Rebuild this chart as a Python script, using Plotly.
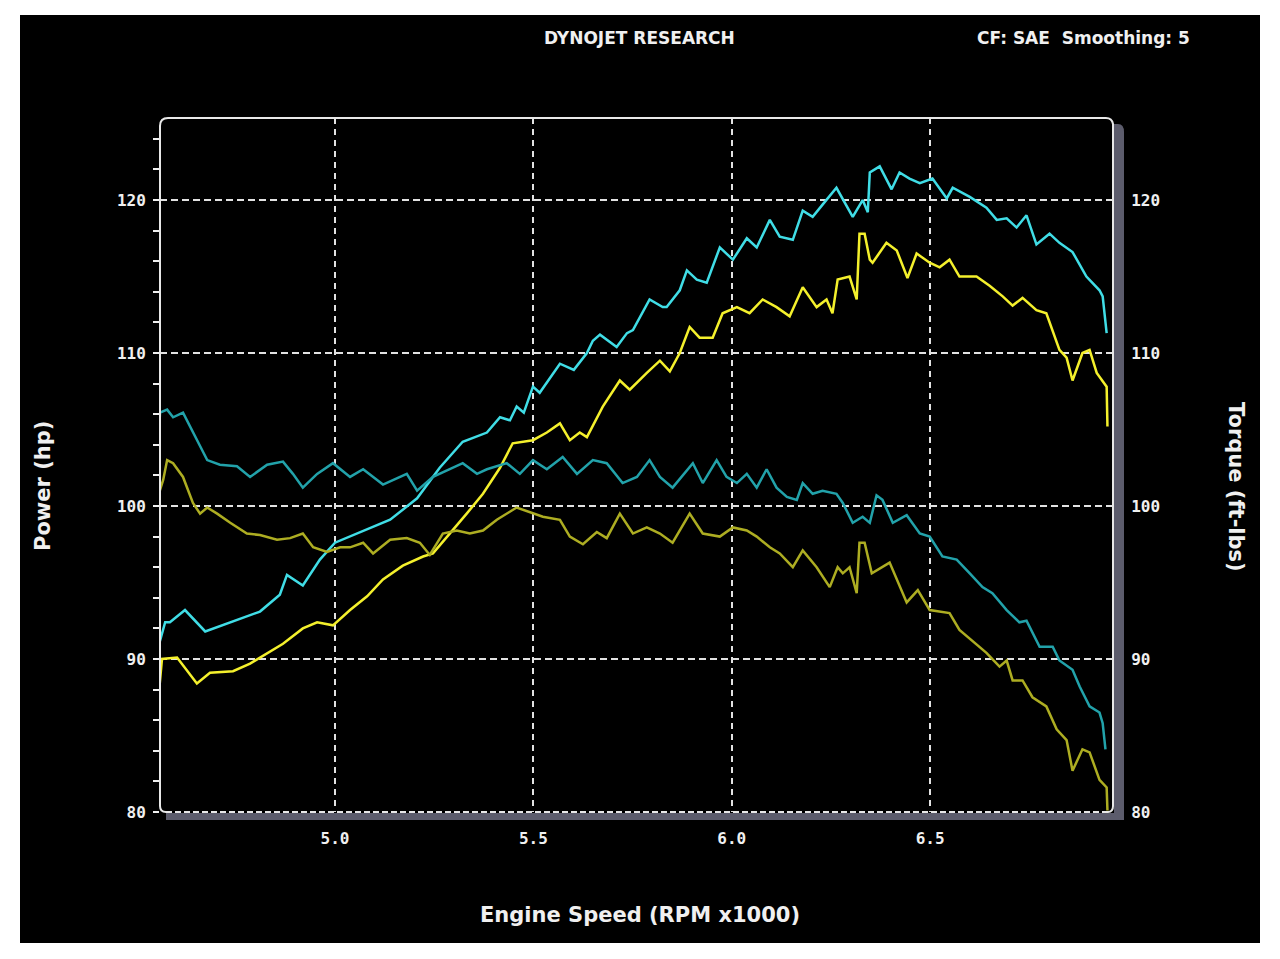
import plotly.graph_objects as go

# ---------------- data (RPM x1000, values) ----------------
power1_rpm = [4.556, 4.572, 4.584, 4.622, 4.673, 4.761, 4.811, 4.861, 4.879, 4.919, 4.962, 5.000,
              5.038, 5.139, 5.207, 5.264, 5.322, 5.383, 5.416, 5.441, 5.458, 5.476, 5.499, 5.516,
              5.567, 5.602, 5.635, 5.650, 5.668, 5.710, 5.736, 5.751, 5.793, 5.826, 5.836, 5.869,
              5.887, 5.912, 5.937, 5.970, 6.003, 6.038, 6.063, 6.096, 6.121, 6.154, 6.179, 6.204,
              6.229, 6.264, 6.305, 6.330, 6.343, 6.348, 6.373, 6.403, 6.423, 6.448, 6.474, 6.506,
              6.542, 6.557, 6.600, 6.642, 6.668, 6.693, 6.718, 6.743, 6.768, 6.801, 6.826, 6.859,
              6.894, 6.927, 6.935, 6.945]
power1_hp = [90.9, 92.4, 92.4, 93.2, 91.8, 92.6, 93.1, 94.2, 95.5, 94.8, 96.5, 97.6,
             98.0, 99.1, 100.5, 102.5, 104.2, 104.8, 105.8, 105.6, 106.5, 106.1, 107.8, 107.4,
             109.3, 108.9, 110.0, 110.8, 111.2, 110.4, 111.3, 111.5, 113.5, 113.0, 113.0, 114.1,
             115.4, 114.8, 114.6, 116.9, 116.1, 117.5, 116.9, 118.7, 117.6, 117.4, 119.3, 118.9,
             119.7, 120.8, 118.9, 120.0, 119.2, 121.8, 122.2, 120.7, 121.8, 121.4, 121.1, 121.4,
             120.1, 120.8, 120.2, 119.5, 118.7, 118.8, 118.2, 119.0, 117.1, 117.8, 117.2, 116.6,
             115.0, 114.1, 113.7, 111.3]

power2_rpm = [4.556, 4.564, 4.602, 4.652, 4.685, 4.743, 4.786, 4.829, 4.869, 4.919, 4.955, 4.995,
              5.038, 5.081, 5.121, 5.171, 5.222, 5.247, 5.290, 5.332, 5.373, 5.416, 5.448, 5.499,
              5.534, 5.567, 5.592, 5.617, 5.635, 5.675, 5.718, 5.743, 5.786, 5.819, 5.844, 5.869,
              5.894, 5.919, 5.952, 5.977, 6.013, 6.045, 6.078, 6.113, 6.146, 6.179, 6.214, 6.239,
              6.254, 6.267, 6.297, 6.315, 6.322, 6.335, 6.348, 6.355, 6.390, 6.416, 6.443, 6.466,
              6.499, 6.524, 6.549, 6.574, 6.617, 6.650, 6.683, 6.708, 6.733, 6.768, 6.793, 6.809,
              6.826, 6.844, 6.859, 6.884, 6.902, 6.920, 6.935, 6.945, 6.947]
power2_hp = [87.7, 90.0, 90.1, 88.4, 89.1, 89.2, 89.7, 90.4, 91.0, 92.0, 92.4, 92.2,
             93.2, 94.1, 95.2, 96.1, 96.7, 96.9, 98.2, 99.5, 100.8, 102.5, 104.1, 104.3,
             104.8, 105.4, 104.3, 104.8, 104.5, 106.5, 108.2, 107.6, 108.7, 109.5, 108.8, 110.0,
             111.7, 111.0, 111.0, 112.6, 113.0, 112.6, 113.5, 113.0, 112.4, 114.3, 113.0, 113.5,
             112.6, 114.8, 115.0, 113.5, 117.8, 117.8, 116.1, 115.9, 117.2, 116.7, 114.9, 116.5,
             115.9, 115.6, 116.1, 115.0, 115.0, 114.4, 113.7, 113.1, 113.6, 112.8, 112.6, 111.5,
             110.2, 109.7, 108.2, 110.0, 110.2, 108.7, 108.2, 107.8, 105.2]

torque1_rpm = [4.556, 4.559, 4.577, 4.592, 4.617, 4.642, 4.678, 4.710, 4.753, 4.786, 4.829, 4.869,
               4.894, 4.919, 4.955, 4.995, 5.038, 5.071, 5.121, 5.181, 5.207, 5.247, 5.290, 5.322,
               5.358, 5.383, 5.433, 5.466, 5.499, 5.534, 5.574, 5.610, 5.650, 5.685, 5.725, 5.761,
               5.793, 5.819, 5.851, 5.902, 5.927, 5.962, 5.987, 6.013, 6.038, 6.063, 6.088, 6.113,
               6.139, 6.164, 6.179, 6.204, 6.229, 6.264, 6.280, 6.305, 6.330, 6.348, 6.365, 6.380,
               6.406, 6.441, 6.474, 6.499, 6.531, 6.567, 6.600, 6.632, 6.657, 6.693, 6.725, 6.743,
               6.776, 6.809, 6.826, 6.859, 6.877, 6.902, 6.927, 6.935, 6.942]
torque1_ftlb = [104.4, 106.1, 106.3, 105.8, 106.1, 104.8, 103.0, 102.7, 102.6, 101.9, 102.7, 102.9,
                102.1, 101.2, 102.1, 102.8, 101.9, 102.4, 101.4, 102.1, 101.0, 101.9, 102.4, 102.8,
                102.1, 102.4, 102.8, 102.1, 103.0, 102.4, 103.2, 102.1, 103.0, 102.8, 101.5, 101.9,
                103.0, 101.9, 101.2, 102.8, 101.5, 103.0, 101.9, 101.5, 102.1, 101.2, 102.4, 101.2,
                100.6, 100.4, 101.5, 100.8, 101.0, 100.8, 100.2, 98.9, 99.3, 98.9, 100.7, 100.4,
                98.9, 99.4, 98.2, 98.0, 96.7, 96.5, 95.6, 94.7, 94.3, 93.2, 92.4, 92.5,
                90.8, 90.8, 89.9, 89.3, 88.2, 86.9, 86.5, 85.8, 84.1]

torque2_rpm = [4.556, 4.567, 4.577, 4.592, 4.617, 4.642, 4.660, 4.678, 4.703, 4.736, 4.778, 4.811,
               4.854, 4.887, 4.919, 4.945, 4.980, 5.013, 5.038, 5.071, 5.096, 5.139, 5.181, 5.214,
               5.239, 5.272, 5.307, 5.340, 5.373, 5.408, 5.458, 5.491, 5.524, 5.567, 5.592, 5.625,
               5.660, 5.685, 5.718, 5.751, 5.786, 5.819, 5.851, 5.894, 5.927, 5.970, 6.003, 6.038,
               6.063, 6.096, 6.121, 6.154, 6.179, 6.214, 6.247, 6.267, 6.280, 6.297, 6.315, 6.322,
               6.335, 6.353, 6.398, 6.441, 6.469, 6.499, 6.549, 6.574, 6.607, 6.642, 6.675, 6.693,
               6.708, 6.733, 6.758, 6.793, 6.819, 6.844, 6.859, 6.884, 6.902, 6.927, 6.945, 6.947]
torque2_ftlb = [100.8, 101.7, 103.0, 102.8, 101.9, 100.2, 99.5, 99.9, 99.5, 98.9, 98.2, 98.1,
                97.8, 97.9, 98.2, 97.3, 97.0, 97.3, 97.3, 97.6, 96.9, 97.8, 97.9, 97.6,
                96.8, 98.2, 98.4, 98.2, 98.4, 99.1, 99.9, 99.6, 99.3, 99.1, 98.0, 97.5,
                98.3, 97.9, 99.5, 98.2, 98.6, 98.2, 97.6, 99.5, 98.2, 98.0, 98.6, 98.4,
                98.0, 97.3, 96.9, 96.0, 97.1, 96.0, 94.7, 96.0, 95.6, 96.0, 94.3, 97.6,
                97.6, 95.6, 96.3, 93.7, 94.5, 93.2, 93.0, 91.9, 91.2, 90.4, 89.5, 89.9,
                88.6, 88.6, 87.5, 86.9, 85.4, 84.7, 82.7, 84.1, 83.9, 82.1, 81.6, 80.1]

x_ticks = [5.0, 5.5, 6.0, 6.5]
y_ticks = [80, 90, 100, 110, 120]

X_RANGE = [4.559, 6.961]
Y_RANGE = [80, 125.36]

# ---------------- figure ----------------
fig = go.Figure()
fig.add_trace(go.Scatter(x=torque1_rpm, y=torque1_ftlb, mode="lines", yaxis="y2",
                         line=dict(color="#22A2AA", width=2.5), name="Torque 1"))
fig.add_trace(go.Scatter(x=torque2_rpm, y=torque2_ftlb, mode="lines", yaxis="y2",
                         line=dict(color="#ADAD22", width=2.5), name="Torque 2"))
fig.add_trace(go.Scatter(x=power1_rpm, y=power1_hp, mode="lines",
                         line=dict(color="#40DDE6", width=2.5), name="Power 1"))
fig.add_trace(go.Scatter(x=power2_rpm, y=power2_hp, mode="lines",
                         line=dict(color="#F4F02C", width=2.5), name="Power 2"))

W, H = 1280, 959
L, R, T, B = 160, 167, 118, 147
PW, PH = W - L - R, H - T - B


def px(x):
    return (x - L) / PW


def py(y):
    return (H - B - y) / PH


tick_font = dict(family="DejaVu Sans Mono", size=16, color="#F0F0F0", weight="bold")
grid_col = "#E2E2E2"

fig.update_layout(
    width=W, height=H,
    margin=dict(l=L, r=R, t=T, b=B),
    paper_bgcolor="white",
    plot_bgcolor="black",
    showlegend=False,
    xaxis=dict(range=X_RANGE, tickvals=x_ticks, ticktext=[f"{v:.1f}" for v in x_ticks],
               showgrid=True, gridcolor=grid_col, gridwidth=2, griddash="6px,5px",
               zeroline=False, showline=False,
               ticks="outside", ticklen=6, tickwidth=2, tickcolor="#F0F0F0",
               ticklabelstandoff=6,
               minor=dict(dtick=0.1, tick0=5.0, ticks="outside", ticklen=4, tickwidth=2,
                          tickcolor="#F0F0F0", showgrid=False),
               tickfont=tick_font),
    yaxis=dict(range=Y_RANGE, tickvals=y_ticks, showgrid=True, gridcolor=grid_col,
               gridwidth=2, griddash="7px,4px", zeroline=False, showline=False,
               ticks="outside", ticklen=6, tickwidth=2, tickcolor="#F0F0F0",
               ticklabelstandoff=4,
               minor=dict(dtick=2, tick0=80, ticks="outside", ticklen=6, tickwidth=2,
                          tickcolor="#F0F0F0", showgrid=False),
               tickfont=tick_font),
    yaxis2=dict(range=Y_RANGE, tickvals=y_ticks, overlaying="y", side="right",
                showgrid=False, zeroline=False, showline=False,
                ticks="outside", ticklen=8, tickwidth=2, tickcolor="#F0F0F0",
                ticklabelstandoff=6,
                minor=dict(dtick=2, tick0=80, ticks="outside", ticklen=8, tickwidth=2,
                           tickcolor="#F0F0F0", showgrid=False),
                tickfont=tick_font),
)

shapes = []
# black background panel
shapes.append(dict(type="rect", xref="paper", yref="paper", layer="below",
                   x0=px(20), x1=px(1260), y0=py(943), y1=py(15),
                   fillcolor="black", line=dict(width=0)))
# gray bands (bottom and right)
shapes.append(dict(type="rect", xref="paper", yref="paper", layer="above",
                   x0=px(166), x1=px(1124), y0=py(820), y1=py(813),
                   fillcolor="#5C5C6C", line=dict(width=0)))
shapes.append(dict(type="path", xref="paper", yref="paper", layer="above",
                   path=f"M {px(1114)},{py(124)} L {px(1118)},{py(124)} Q {px(1124)},{py(124)} {px(1124)},{py(132)} "
                        f"L {px(1124)},{py(820)} L {px(1114)},{py(820)} Z",
                   fillcolor="#5C5C6C", line=dict(width=0)))
# white frame: top + left with rounded corner
shapes.append(dict(type="path", xref="paper", yref="paper", layer="above",
                   path=f"M {px(160)},{py(806)} L {px(160)},{py(126)} Q {px(160)},{py(118)} {px(168)},{py(118)} "
                        f"L {px(1106)},{py(118)} Q {px(1112)},{py(118)} {px(1113)},{py(124)} L {px(1113)},{py(806)}",
                   line=dict(color="#E8E8E8", width=2)))
# bottom left corner curve
shapes.append(dict(type="path", xref="paper", yref="paper", layer="above",
                   path=f"M {px(160)},{py(806)} Q {px(160)},{py(812)} {px(166)},{py(812)}",
                   line=dict(color="#E8E8E8", width=2)))
# bottom dashed white line
shapes.append(dict(type="line", xref="paper", yref="paper", layer="above",
                   x0=px(166), x1=px(1108), y0=0, y1=0,
                   line=dict(color="#E8E8E8", width=2, dash="6px,3px")))
# bottom right corner curve
shapes.append(dict(type="path", xref="paper", yref="paper", layer="above",
                   path=f"M {px(1108)},{py(812)} Q {px(1113)},{py(812)} {px(1113)},{py(806)}",
                   line=dict(color="#E8E8E8", width=2)))
fig.update_layout(shapes=shapes)

ann_font = dict(family="DejaVu Sans", color="#F0F0F0", weight="bold")
common = dict(xref="paper", yref="paper", showarrow=False, xanchor="center", yanchor="middle")
fig.add_annotation(text="DYNOJET RESEARCH", x=px(639), y=py(38),
                   font=dict(size=17, **ann_font), **common)
fig.add_annotation(text="CF: SAE&nbsp;&nbsp;Smoothing: 5", x=px(1083), y=py(38),
                   font=dict(size=17, **ann_font), **common)
fig.add_annotation(text="Engine Speed (RPM x1000)", x=px(640), y=py(915),
                   font=dict(size=21, **ann_font), **common)
fig.add_annotation(text="Power (hp)", x=px(43), y=py(486), textangle=-90,
                   font=dict(size=21, **ann_font), **common)
fig.add_annotation(text="Torque (ft-lbs)", x=px(1236), y=py(487), textangle=90,
                   font=dict(size=21, **ann_font), **common)

fig.write_html("out.html")
